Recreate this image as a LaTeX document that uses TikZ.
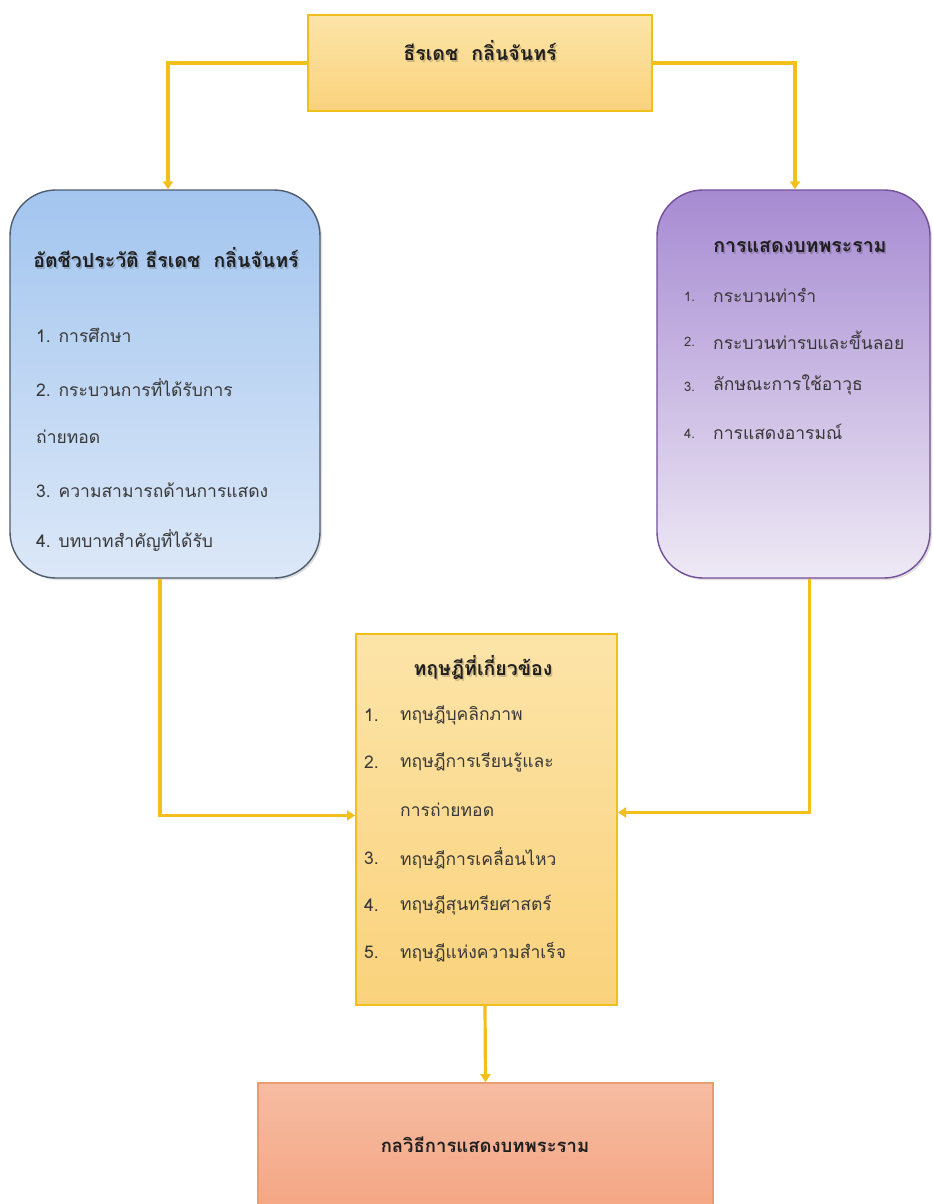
\documentclass[tikz,border=0pt]{standalone}
\usepackage{fontspec}
\newfontfamily\thai[Script=Thai]{Loma}
\usetikzlibrary{arrows.meta,shadows,calc}

\definecolor{goldline}{HTML}{F2BF1B}
\definecolor{goldedge}{HTML}{EFC01A}
\definecolor{yellowtop}{HTML}{FCE4A8}
\definecolor{yellowbot}{HTML}{FAD27C}
\definecolor{bluetop}{HTML}{A3C5EF}
\definecolor{bluebot}{HTML}{DCE8F8}
\definecolor{blueedge}{HTML}{4F5E6E}
\definecolor{purptop}{HTML}{A78BD2}
\definecolor{purpbot}{HTML}{EEE9F5}
\definecolor{purpedge}{HTML}{74509A}
\definecolor{salmtop}{HTML}{F6BCA2}
\definecolor{salmbot}{HTML}{F4A480}
\definecolor{salmedge}{HTML}{E99C70}
\definecolor{inktext}{HTML}{383838}

\tikzset{
  every node/.style={font=\thai, text=inktext, inner sep=0pt},
  yellowbox/.style={draw=goldedge, line width=2pt, top color=yellowtop, bottom color=yellowbot},
  roundbox/.style={line width=1.4pt, rounded corners=46pt,
    drop shadow={opacity=0.25, shadow xshift=2pt, shadow yshift=-2pt}},
  title/.style={font=\thai\bfseries\fontsize{19.5}{22}\selectfont, text=black!88},
  titleshade/.style={font=\thai\bfseries\fontsize{19.5}{22}\selectfont, text=black, opacity=0.18},
  item/.style={font=\thai\fontsize{17.5}{20}\selectfont, anchor=west},
  numsmall/.style={font=\thai\fontsize{13}{15}\selectfont, anchor=west},
  link/.style={draw=goldline, line width=3.2pt, -{Triangle[width=10pt,length=8pt]}},
}

\begin{document}
\begin{tikzpicture}[x=1pt,y=-1pt]
\clip (0,0) rectangle (932,1204);
\useasboundingbox (0,0) rectangle (932,1204);
\fill[white] (0,0) rectangle (932,1204);

% boxes
\node[yellowbox, minimum width=344pt, minimum height=96pt] (top) at (480,63) {};
\node[roundbox, draw=blueedge, top color=bluetop, bottom color=bluebot,
      minimum width=310pt, minimum height=388pt] (left) at (165,384) {};
\node[roundbox, draw=purpedge, top color=purptop, bottom color=purpbot,
      minimum width=273pt, minimum height=388pt] (right) at (793.5,384) {};
\node[yellowbox, minimum width=261pt, minimum height=371pt] (mid) at (486.5,819.5) {};
\node[draw=salmedge, line width=1.6pt, top color=salmtop, bottom color=salmbot,
      minimum width=455pt, minimum height=140pt] (bot) at (485.5,1153) {};

% soft shadows under the box titles
\node[titleshade] (toptitleshade) at (481.5,53) {ธีรเดช\ \ กลิ่นจันทร์};
\node[titleshade] (lefttitleshade) at (167.5,260) {อัตชีวประวัติ ธีรเดช\ \ กลิ่นจันทร์};
\node[titleshade] (righttitleshade) at (801.5,249) {การแสดงบทพระราม};
\node[titleshade] (midtitleshade) at (484.5,670) {ทฤษฎีที่เกี่ยวข้อง};

% titles
\node[title] (toptitle) at (480,51) {ธีรเดช\ \ กลิ่นจันทร์};
\node[title] (lefttitle) at (166,258) {อัตชีวประวัติ ธีรเดช\ \ กลิ่นจันทร์};
\node[title] (righttitle) at (800,247) {การแสดงบทพระราม};
\node[title] (midtitle) at (483,668) {ทฤษฎีที่เกี่ยวข้อง};
\node[title, font=\thai\bfseries\fontsize{18.5}{22}\selectfont] (bottitle) at (485,1145) {กลวิธีการแสดงบทพระราม};

% biography items
\node[item] (l1) at (36,335) {1. การศึกษา};
\node[item] (l2) at (36,388) {2. กระบวนการที่ได้รับการ};
\node[item] (l2b) at (36,437) {ถ่ายทอด};
\node[item] (l3) at (36,490) {3. ความสามารถด้านการแสดง};
\node[item] (l4) at (36,540) {4. บทบาทสำคัญที่ได้รับ};

% performance items
\node[numsmall] (rn1) at (684,297) {1.};
\node[item] (r1) at (713,295) {กระบวนท่ารำ};
\node[numsmall] (rn2) at (684,342) {2.};
\node[item] (r2) at (713,340) {กระบวนท่ารบและขึ้นลอย};
\node[numsmall] (rn3) at (684,387) {3.};
\node[item] (r3) at (713,385) {ลักษณะการใช้อาวุธ};
\node[numsmall] (rn4) at (684,434) {4.};
\node[item] (r4) at (713,432) {การแสดงอารมณ์};

% theory items
\node[item] (mn1) at (364,715) {1.};
\node[item] (m1) at (400,715) {ทฤษฎีบุคลิกภาพ};
\node[item] (mn2) at (364,762) {2.};
\node[item] (m2) at (400,762) {ทฤษฎีการเรียนรู้และ};
\node[item] (m2b) at (400,810) {การถ่ายทอด};
\node[item] (mn3) at (364,858) {3.};
\node[item] (m3) at (400,858) {ทฤษฎีการเคลื่อนไหว};
\node[item] (mn4) at (364,905) {4.};
\node[item] (m4) at (400,905) {ทฤษฎีสุนทรียศาสตร์};
\node[item] (mn5) at (364,952) {5.};
\node[item] (m5) at (400,952) {ทฤษฎีแห่งความสำเร็จ};

% connectors
\coordinate (lout) at ($(left.south)+(-5,0)$);
\coordinate (rout) at ($(right.south)+(16,0)$);
\draw[link] (top.west) -| ($(left.north)+(3,0)$);
\draw[link] (top.east) -| ($(right.north)+(1.5,0)$);
\draw[link] (lout) |- ($(mid.west)+(0,-4)$);
\draw[link] (rout) |- ($(mid.east)+(0,-7)$);
\draw[link] ($(mid.south)+(-1.5,0)$) -- (bot.north);
\end{tikzpicture}
\end{document}
